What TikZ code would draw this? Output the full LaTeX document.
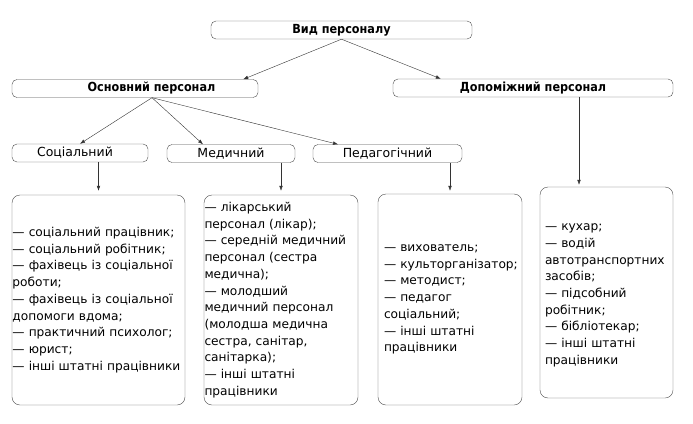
\documentclass[tikz,border=0pt]{standalone}
\usepackage{fontspec}
\setmainfont{DejaVu Sans}
\newfontfamily\narrowfont{DejaVu Sans Condensed}
\usetikzlibrary{arrows.meta}

\begin{document}
\begin{tikzpicture}[x=1pt,y=-1pt,
  head/.style={draw=black!70,rounded corners=5pt,minimum height=18pt,inner sep=0pt,
    font=\narrowfont\bfseries\fontsize{12.5}{14}\selectfont},
  kind/.style={draw=black!70,rounded corners=5pt,minimum height=18pt,inner sep=0pt,
    font=\fontsize{12.5}{14}\selectfont},
  list/.style={draw=black!70,rounded corners=8pt,align=left,inner ysep=0pt,
    font=\fontsize{12.2}{16.7}\selectfont},
  arr/.style={-{Latex[length=5pt,width=3.6pt]},black!80,thin}]
\useasboundingbox (0,0) rectangle (693,423);
% Top level
\node[head,minimum width=261pt] (vid) at (341.5,30) {Вид персоналу};
\node[head,minimum width=246pt] (osn) at (135,88.5) {\hspace*{33pt}Основний персонал};
\node[head,minimum width=280pt] (dop) at (533,88) {Допоміжний персонал};
% Kinds of main staff
\node[kind,minimum width=136pt] (soc) at (80,153) {\hspace*{-10pt}Соціальний};
\node[kind,minimum width=128pt] (med) at (231,153.5) {Медичний};
\node[kind,minimum width=149pt] (ped) at (387.5,153.5) {Педагогічний};
% Lists of positions
\node[list,inner xsep=0.5pt,text width=172pt,minimum height=210pt] (socl) at (98.5,300) {%
— соціальний працівник;\\
— соціальний робітник;\\
— фахівець із соціальної\\
роботи;\\
— фахівець із соціальної\\
допомоги вдома;\\
— практичний психолог;\\
— юрист;\\
\mbox{— інші штатні працівники}\\[-6pt]};
\node[list,inner xsep=0.5pt,text width=153pt,minimum height=210pt] (medl) at (281,300) {%
— лікарський\\
персонал (лікар);\\
— середній медичний\\
персонал (сестра\\
медична);\\
— молодший\\
медичний персонал\\
(молодша медична\\
сестра, санітар,\\
санітарка);\\
— інші штатні\\
працівники};
\node[list,inner xsep=6pt,text width=132pt,minimum height=211pt] (pedl) at (450,299.5) {%
— вихователь;\\
\mbox{— культорганізатор;}\\
— методист;\\
— педагог\\
соціальний;\\
— інші штатні\\
працівники};
\node[list,inner xsep=5pt,text width=123pt,minimum height=211pt] (dopl) at (606.5,292.5) {%
\mbox{}\\[-4pt]
— кухар;\\
— водій\\
автотранспортних\\
засобів;\\
— підсобний\\
робітник;\\
— бібліотекар;\\
— інші штатні\\
працівники};
% Connectors
\draw[arr] (vid.south) -- ([xshift=-15pt]osn.north east);
\draw[arr] (vid.south) -- ([xshift=48pt]dop.north west);
\draw[arr] ([xshift=17pt]osn.south) -- (soc.north);
\draw[arr] ([xshift=17pt]osn.south) -- ([xshift=-28pt]med.north);
\draw[arr] ([xshift=17pt]osn.south) -- ([xshift=-49.5pt]ped.north);
\draw[arr,shorten >=4pt] (soc.south -| socl.north) -- (socl.north);
\draw[arr,shorten >=4pt] (med.south -| medl.north) -- (medl.north);
\draw[arr,shorten >=3pt] (ped.south -| pedl.north) -- (pedl.north);
\draw[arr,shorten >=2pt] ([xshift=46pt]dop.south) -- ([xshift=46pt]dop.south |- dopl.north);
\end{tikzpicture}
\end{document}
